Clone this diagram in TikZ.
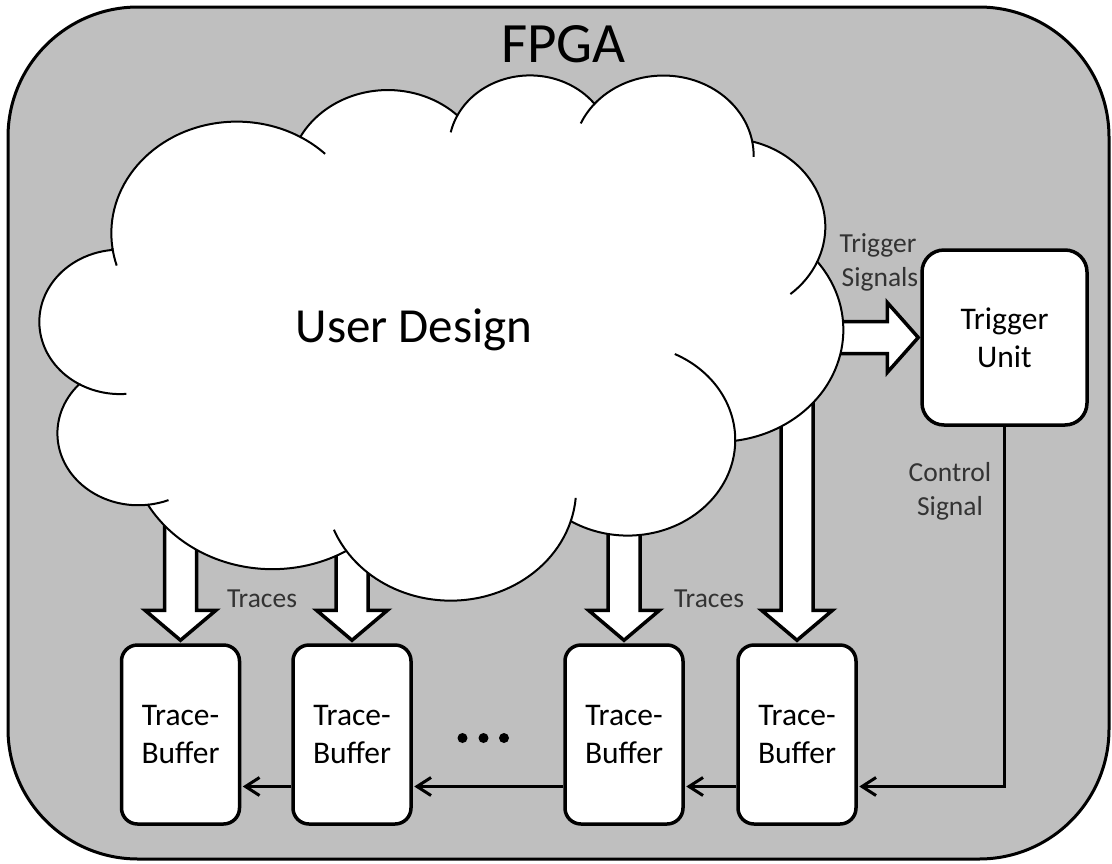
\documentclass[tikz,border=0pt]{standalone}
\usepackage{fontspec}
\setmainfont{Carlito}
\usetikzlibrary{arrows.meta,calc}

\definecolor{fpgagray}{RGB}{191,191,191}

% scale of the cloud frame (path units of 1/100) in pt
\newcommand\cloudsx{1.858796}
\newcommand\cloudsy{1.215278}

% elliptic arc given by radii, start angle and sweep (angles measured on screen,
% y pointing down); stores canvas start/end angles and radii as \<name>s/e/x/y
\newcommand\setlobe[5]{%
  \pgfmathsetmacro\lobeta{atan2((#2)*sin(#4),(#3)*cos(#4))}%
  \pgfmathsetmacro\lobetb{atan2((#2)*sin((#4)+(#5)),(#3)*cos((#4)+(#5)))}%
  \pgfmathsetmacro\lobetb{ifthenelse((#5)>0,ifthenelse(\lobetb<\lobeta,\lobetb+360,\lobetb),ifthenelse(\lobetb>\lobeta,\lobetb-360,\lobetb))}%
  \pgfmathsetmacro\lobeta{0-(\lobeta)}%
  \pgfmathsetmacro\lobetb{0-(\lobetb)}%
  \pgfmathsetmacro\lobexr{(#2)*\cloudsx}%
  \pgfmathsetmacro\lobeyr{(#3)*\cloudsy}%
  \expandafter\xdef\csname #1s\endcsname{\lobeta}%
  \expandafter\xdef\csname #1e\endcsname{\lobetb}%
  \expandafter\xdef\csname #1x\endcsname{\lobexr pt}%
  \expandafter\xdef\csname #1y\endcsname{\lobeyr pt}%
}

\tikzset{
  fpgaframe/.style={draw=black, line width=3pt, fill=fpgagray, rounded corners=130pt},
  cloudline/.style={draw=black, line width=2pt},
  blockarrow/.style={draw=black, line width=3.5pt, fill=white, line join=miter},
  bufbox/.style={draw=black, line width=3.5pt, fill=white, rounded corners=16pt,
    minimum width=118pt, minimum height=179pt, inner sep=0pt, align=center,
    font=\fontsize{31.5}{38}\selectfont},
  trigbox/.style={draw=black, line width=3.5pt, fill=white, rounded corners=22pt,
    minimum width=165pt, minimum height=175pt, inner sep=0pt, align=center,
    font=\fontsize{31.5}{38}\selectfont},
  lbl/.style={anchor=base, inner sep=0pt, text=black!80, font=\fontsize{27.5}{33}\selectfont},
  conn/.style={draw=black, line width=3pt, shorten >=1.5pt,
    -{Straight Barb[length=14pt,width=18pt]}},
  dotmark/.style={circle, fill=black, minimum size=10pt, inner sep=0pt},
}

\begin{document}
\begin{tikzpicture}[x=1pt, y=-1pt]
\useasboundingbox (0,0) rectangle (1112,863);

% lobes of the cloud outline
\setlobe{clA}{67.53}{91.90}{-190.487}{123.781}
\setlobe{clB}{53.33}{72.67}{-144.102}{89.945}
\setlobe{clC}{43.65}{59.45}{-145.808}{99.723}
\setlobe{clD}{48.57}{65.95}{-130.986}{117.242}
\setlobe{clE}{53.33}{72.73}{-78.709}{109.027}
\setlobe{clF}{67.75}{92.20}{-46.267}{130.269}
\setlobe{clG}{57.85}{78.67}{0.625}{114.033}
\setlobe{clH}{67.52}{92.15}{22.452}{115.173}
\setlobe{clI}{77.20}{105.43}{66.243}{75.711}
\setlobe{clJ}{43.60}{59.18}{-274.942}{146.736}
\setlobe{clK}{43.45}{59.45}{-246.829}{152.519}
% short inner arcs where the lobes meet
\setlobe{hkA}{67.53}{91.90}{-66.706}{12.7}
\setlobe{hkB}{43.65}{59.45}{-145.808}{-17.686}
\setlobe{hkC}{48.57}{65.95}{-130.986}{-18.195}
\setlobe{hkD}{48.57}{65.95}{-13.744}{14.859}
\setlobe{hkE}{53.33}{72.73}{30.318}{27.752}
\setlobe{hkF}{57.85}{78.67}{0.625}{-70.917}
\setlobe{hkG}{67.52}{92.15}{22.452}{-16.0}
\setlobe{hkH}{67.52}{92.15}{137.625}{14.081}
\setlobe{hkI}{43.60}{59.18}{-274.942}{-11.448}
\setlobe{hkJ}{43.45}{59.45}{-246.829}{-26.43}
\setlobe{hkK}{67.53}{91.90}{-190.487}{-11.86}

% FPGA frame
\path[fpgaframe] (8,7) rectangle (1109,859);
\node[anchor=base, inner sep=0pt, font=\fontsize{57}{68}\selectfont] (fpga) at (563.5,62) {FPGA};

% trace buffers and trigger unit
\node[bufbox] (tb1) at (180.5,734.5) {Trace-\\Buffer};
\node[bufbox] (tb2) at (352,734.5) {Trace-\\Buffer};
\node[bufbox] (tb3) at (624,734.5) {Trace-\\Buffer};
\node[bufbox] (tb4) at (797,734.5) {Trace-\\Buffer};
\node[trigbox] (trig) at (1004.5,337.5) {Trigger\\Unit};

% wide arrows leaving the user design
\draw[blockarrow] ([yshift=3pt]tb1.north) -- ++(35.5,-30) -- ++(-19.5,0) -- ++(0,-162)
  -- ++(-32,0) -- ++(0,162) -- ++(-19.5,0) -- cycle;
\draw[blockarrow] ([yshift=3pt]tb2.north) -- ++(35.5,-30) -- ++(-19.5,0) -- ++(0,-142)
  -- ++(-32,0) -- ++(0,142) -- ++(-19.5,0) -- cycle;
\draw[blockarrow] ([yshift=3pt]tb3.north) -- ++(35.5,-30) -- ++(-19.5,0) -- ++(0,-172)
  -- ++(-32,0) -- ++(0,172) -- ++(-19.5,0) -- cycle;
\draw[blockarrow] ([yshift=3pt]tb4.north) -- ++(35.5,-30) -- ++(-19.5,0) -- ++(0,-242)
  -- ++(-32,0) -- ++(0,242) -- ++(-19.5,0) -- cycle;
\draw[blockarrow] ([xshift=-2pt]trig.west) -- ++(-31,-35) -- ++(0,19) -- ++(-129,0)
  -- ++(0,32) -- ++(129,0) -- ++(0,19) -- cycle;

% the user design cloud
\begin{scope}[shift={(40pt,-73.7pt)}, x=\cloudsx pt, y=-\cloudsy pt]
  \path[cloudline, fill=white] (39,143.7) coordinate (k0)
    arc[start angle=\clAs, end angle=\clAe, x radius=\clAx, y radius=\clAy] coordinate (k1)
    arc[start angle=\clBs, end angle=\clBe, x radius=\clBx, y radius=\clBy] coordinate (k2)
    arc[start angle=\clCs, end angle=\clCe, x radius=\clCx, y radius=\clCy] coordinate (k3)
    arc[start angle=\clDs, end angle=\clDe, x radius=\clDx, y radius=\clDy] coordinate (k4)
    arc[start angle=\clEs, end angle=\clEe, x radius=\clEx, y radius=\clEy] coordinate (k5)
    arc[start angle=\clFs, end angle=\clFe, x radius=\clFx, y radius=\clFy] coordinate (k6)
    arc[start angle=\clGs, end angle=\clGe, x radius=\clGx, y radius=\clGy] coordinate (k7)
    arc[start angle=\clHs, end angle=\clHe, x radius=\clHx, y radius=\clHy] coordinate (k8)
    arc[start angle=\clIs, end angle=\clIe, x radius=\clIx, y radius=\clIy] coordinate (k9)
    arc[start angle=\clJs, end angle=\clJe, x radius=\clJx, y radius=\clJy] coordinate (k10)
    arc[start angle=\clKs, end angle=\clKe, x radius=\clKx, y radius=\clKy] -- cycle;
  \draw[cloudline] (k1) arc[start angle=\hkAs, end angle=\hkAe, x radius=\hkAx, y radius=\hkAy];
  \draw[cloudline] (k2) arc[start angle=\hkBs, end angle=\hkBe, x radius=\hkBx, y radius=\hkBy];
  \draw[cloudline] (k3) arc[start angle=\hkCs, end angle=\hkCe, x radius=\hkCx, y radius=\hkCy];
  \draw[cloudline] (k4) arc[start angle=\hkDs, end angle=\hkDe, x radius=\hkDx, y radius=\hkDy];
  \draw[cloudline] (k5) arc[start angle=\hkEs, end angle=\hkEe, x radius=\hkEx, y radius=\hkEy];
  \draw[cloudline] (k6) arc[start angle=\hkFs, end angle=\hkFe, x radius=\hkFx, y radius=\hkFy];
  \draw[cloudline] (k7) arc[start angle=\hkGs, end angle=\hkGe, x radius=\hkGx, y radius=\hkGy];
  \draw[cloudline] (k8) arc[start angle=\hkHs, end angle=\hkHe, x radius=\hkHx, y radius=\hkHy];
  \draw[cloudline] (k9) arc[start angle=\hkIs, end angle=\hkIe, x radius=\hkIx, y radius=\hkIy];
  \draw[cloudline] (k10) arc[start angle=\hkJs, end angle=\hkJe, x radius=\hkJx, y radius=\hkJy];
  \draw[cloudline] (k0) arc[start angle=\hkKs, end angle=\hkKe, x radius=\hkKx, y radius=\hkKy];
\end{scope}
\node[anchor=base, inner sep=0pt, font=\fontsize{49}{59}\selectfont] (ud) at (414,342) {User Design};

% control chain
\draw[conn] (trig.south) |- ([yshift=-52pt]tb4.east);
\draw[conn] ([yshift=-52pt]tb4.west) -- ([yshift=-52pt]tb3.east);
\draw[conn] ([yshift=-52pt]tb3.west) -- ([yshift=-52pt]tb2.east);
\draw[conn] ([yshift=-52pt]tb2.west) -- ([yshift=-52pt]tb1.east);

% labels
\node[lbl] (ts1) at (878,252) {Trigger};
\node[lbl] (ts2) at (880,286) {Signals};
\node[lbl] (cs1) at (950,481) {Control};
\node[lbl] (cs2) at (950,515) {Signal};
\node[lbl] (tr1) at (262,607) {Traces};
\node[lbl] (tr2) at (709,607) {Traces};

% more buffers in between
\node[dotmark] (d1) at (462.5,738) {};
\node[dotmark] (d2) at (483.5,738) {};
\node[dotmark] (d3) at (504,738) {};
\end{tikzpicture}
\end{document}
